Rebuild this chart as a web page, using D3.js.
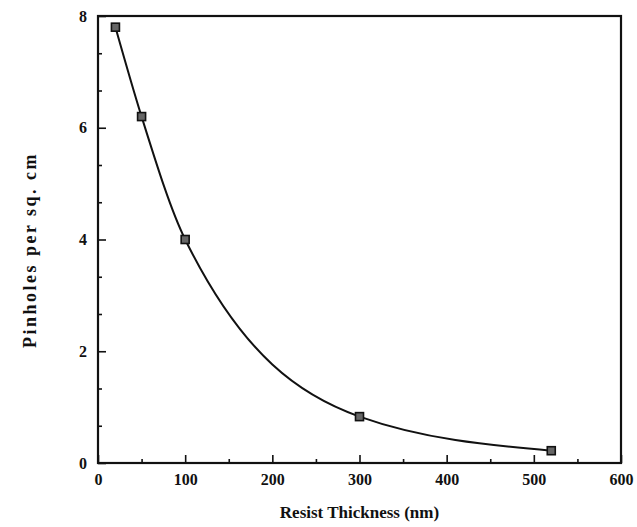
<!DOCTYPE html>
<html>
<head>
<meta charset="utf-8">
<script src="https://cdn.jsdelivr.net/npm/d3@7"></script>
<style>
body { margin: 0; background: #fff; }
text { font-family: "Liberation Serif", "DejaVu Serif", serif; font-weight: bold; fill: #111; }
</style>
</head>
<body>
<div id="chart"></div>
<script>
var thickness = [20, 50, 100, 300, 520];
var pinholes = [7.8, 6.2, 4.0, 0.83, 0.22];
var xTicks = [0, 100, 200, 300, 400, 500, 600];
var yTicks = [0, 2, 4, 6, 8];

const WIDTH = 637;
const HEIGHT = 527;
const LEFT = 98;
const RIGHT = 621;
const TOP = 16;
const BOTTOM = 463;

var translate = function (x, y) {
    return "translate(" + x + "," + y + ")";
};

var xScale = d3.scaleLinear().domain([0, 600]).range([LEFT, RIGHT]);
var yScale = d3.scaleLinear().domain([0, 8]).range([BOTTOM, TOP]);

var svg = d3.select('#chart').append('svg')
    .attr('width', WIDTH)
    .attr('height', HEIGHT);

// minor ticks
var xMinor = d3.range(50, 600, 100);
var yMinor = d3.range(0, 8.01, 2 / 3).filter(function (d) {
    return Math.abs(d / 2 - Math.round(d / 2)) > 0.01;
});

var xAxis = d3.axisBottom(xScale).tickValues(xTicks).tickSize(-8).tickPadding(11)
    .tickFormat(d3.format('d'));
var yAxis = d3.axisLeft(yScale).tickValues(yTicks).tickSize(-8).tickPadding(11)
    .tickFormat(d3.format('d'));

svg.append('g').attr('transform', translate(0, BOTTOM)).call(xAxis);
svg.append('g').attr('transform', translate(LEFT, 0)).call(yAxis);

svg.append('g').attr('transform', translate(0, BOTTOM))
    .call(d3.axisBottom(xScale).tickValues(xMinor).tickSize(-4).tickFormat(''));
svg.append('g').attr('transform', translate(LEFT, 0))
    .call(d3.axisLeft(yScale).tickValues(yMinor).tickSize(-4).tickFormat(''));

svg.selectAll('.domain').remove();
svg.selectAll('.tick line').attr('stroke', '#111').attr('stroke-width', 1.6);
svg.selectAll('.tick text').style('font-size', '16px');

// frame
svg.append('rect')
    .attr('x', LEFT).attr('y', TOP)
    .attr('width', RIGHT - LEFT).attr('height', BOTTOM - TOP)
    .attr('fill', 'none').attr('stroke', '#111').attr('stroke-width', 2.2);

// curve
var pts = thickness.map(function (t, i) { return [t, pinholes[i]]; });
var line = d3.line()
    .x(function (d) { return xScale(d[0]); })
    .y(function (d) { return yScale(d[1]); })
    .curve(d3.curveMonotoneX);

svg.append('path')
    .attr('d', line(pts))
    .attr('fill', 'none')
    .attr('stroke', '#111')
    .attr('stroke-width', 2);

svg.selectAll('.pt')
    .data(pts)
    .enter()
    .append('rect')
    .attr('x', function (d) { return xScale(d[0]) - 4; })
    .attr('y', function (d) { return yScale(d[1]) - 4; })
    .attr('width', 8)
    .attr('height', 8)
    .attr('fill', '#666')
    .attr('stroke', '#111')
    .attr('stroke-width', 1.6);

svg.append('text')
    .attr('x', (LEFT + RIGHT) / 2)
    .attr('y', 518)
    .attr('text-anchor', 'middle')
    .style('font-size', '17px')
    .text('Resist Thickness (nm)');

svg.append('text')
    .attr('transform', translate(36, 250) + ' rotate(-90)')
    .attr('text-anchor', 'middle')
    .style('font-size', '18px')
    .style('letter-spacing', '2.5px')
    .text('Pinholes per sq. cm');
</script>
</body>
</html>
